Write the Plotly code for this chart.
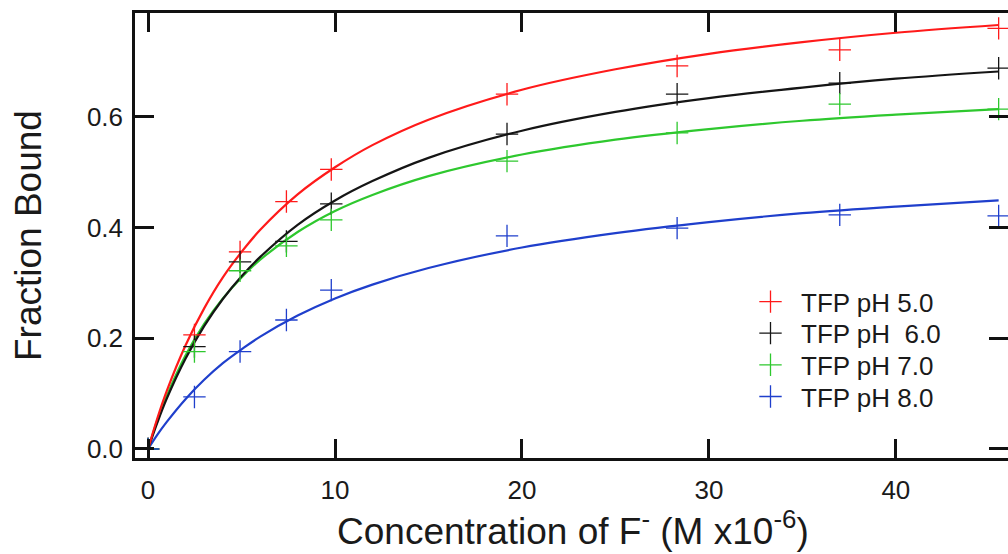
import plotly.graph_objects as go

# Measured points (concentration of F-, micromolar)
x_data = [0, 2.48, 4.92, 7.4, 9.8, 19.2, 28.3, 37.0, 45.5]
y_ph5 = [0.0, 0.206, 0.356, 0.447, 0.505, 0.641, 0.692, 0.721, 0.760]
y_ph6 = [0.0, 0.185, 0.338, 0.375, 0.443, 0.569, 0.641, 0.661, 0.688]
y_ph7 = [0.0, 0.176, 0.322, 0.367, 0.414, 0.520, 0.571, 0.623, 0.614]
y_ph8 = [0.0, 0.094, 0.176, 0.233, 0.287, 0.385, 0.399, 0.423, 0.421]

# Fitted curves at these concentrations
x_fit = [0, 0.5, 1, 2, 3, 4, 5, 6, 8, 10, 12, 15, 20, 25, 30, 35, 40, 45.5]
fit_ph5 = [0, 0.056, 0.105, 0.187, 0.254, 0.310, 0.356, 0.396, 0.460, 0.509, 0.549, 0.595, 0.649, 0.686, 0.714, 0.735, 0.752, 0.766]
fit_ph6 = [0, 0.048, 0.091, 0.163, 0.222, 0.271, 0.312, 0.347, 0.405, 0.449, 0.484, 0.526, 0.575, 0.609, 0.634, 0.653, 0.669, 0.682]
fit_ph7 = [0, 0.052, 0.096, 0.169, 0.226, 0.272, 0.310, 0.342, 0.392, 0.430, 0.459, 0.493, 0.532, 0.559, 0.578, 0.593, 0.604, 0.614]
fit_ph8 = [0, 0.026, 0.049, 0.090, 0.125, 0.155, 0.180, 0.203, 0.241, 0.272, 0.297, 0.327, 0.364, 0.390, 0.410, 0.426, 0.438, 0.449]

labels = ["TFP pH 5.0", "TFP pH  6.0", "TFP pH 7.0", "TFP pH 8.0"]
colors = ["#ff1a1a", "#151515", "#2ec82e", "#1f3fcc"]
x_ticks = [0, 10, 20, 30, 40]
y_ticks = [0.0, 0.2, 0.4, 0.6]
x_title = "Concentration of F<sup>-</sup> (M x10<sup>-6</sup>)"
y_title = "Fraction Bound"

points = [y_ph5, y_ph6, y_ph7, y_ph8]
fits = [fit_ph5, fit_ph6, fit_ph7, fit_ph8]
legend_ids = ["legend", "legend2", "legend3", "legend4"]

W, H = 1008, 554
ML, MR, MT, MB = 135, 0, 13, 96
PW, PH = W - ML - MR, H - MT - MB

def px_x(p):
    return (p - ML) / PW

def px_y(p):
    return (H - MB - p) / PH

fig = go.Figure()
for i in [3, 2, 1, 0]:
    fig.add_trace(go.Scatter(
        x=x_fit, y=fits[i], mode="lines", line=dict(color=colors[i], width=2.2, shape="spline"),
        showlegend=False, hoverinfo="skip"))
for i in range(4):
    fig.add_trace(go.Scatter(
        x=x_data, y=points[i], mode="markers", name=labels[i], legend=legend_ids[i],
        marker=dict(symbol="cross-thin", size=16, line=dict(color=colors[i], width=1.3))))

font_family = "Liberation Sans, Arial, sans-serif"
txt_color = "#1a1a1a"
axis_common = dict(
    showline=True, linewidth=2.5, linecolor="#111", mirror="ticks",
    ticks="inside", ticklen=19, tickwidth=2.5, tickcolor="#111",
    showgrid=False, zeroline=False, automargin=False,
    tickfont=dict(family=font_family, size=26, color=txt_color),
)
fig.update_xaxes(range=[-0.7, 46.0], tickvals=x_ticks, ticklabelstandoff=7, **axis_common)
fig.update_yaxes(range=[-0.0163, 0.7877], tickvals=y_ticks, tickformat=".1f", ticklabelstandoff=4,
                 **axis_common)

legend_rows = [301.7, 333.2, 364.9, 396.6]
legend_layout = {}
for lid, yc in zip(legend_ids, legend_rows):
    legend_layout[lid] = dict(
        x=px_x(740), y=px_y(yc), xanchor="left", yanchor="middle",
        bgcolor="rgba(0,0,0,0)", itemwidth=51,
        font=dict(family=font_family, size=26, color=txt_color))

fig.update_layout(
    width=W, height=H,
    margin=dict(l=ML, r=MR, t=MT, b=MB),
    paper_bgcolor="white", plot_bgcolor="white",
    font=dict(family=font_family, color=txt_color),
    annotations=[
        dict(text=x_title, xref="paper", yref="paper", x=px_x(573), y=0,
             xanchor="center", yanchor="bottom", yshift=-96, showarrow=False,
             font=dict(family=font_family, size=37, color=txt_color)),
        dict(text=y_title, xref="paper", yref="paper", x=px_x(29), y=px_y(236),
             xanchor="center", yanchor="middle", textangle=-90, showarrow=False,
             font=dict(family=font_family, size=37, color=txt_color)),
    ],
    **legend_layout,
)
fig.write_html("out.html", config={"displayModeBar": False},
               post_script="document.body.style.margin='0';document.body.style.overflow='hidden';")
